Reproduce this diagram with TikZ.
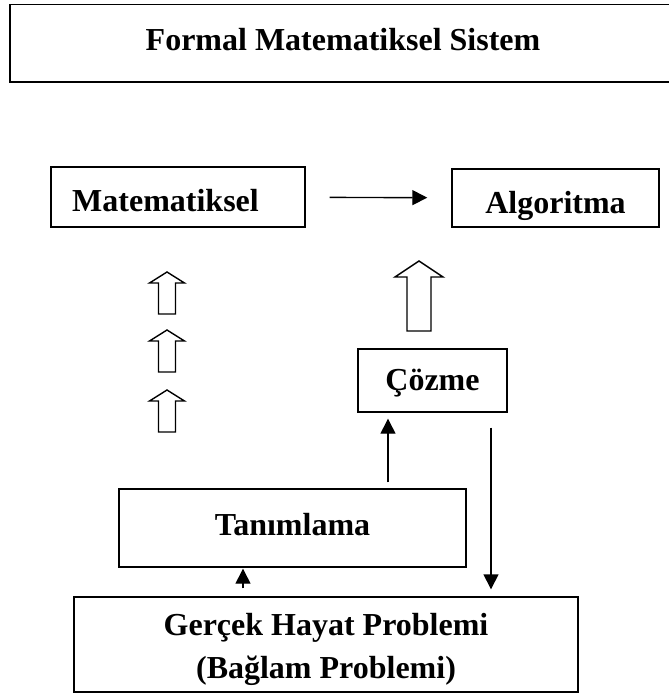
\documentclass[tikz,border=0pt]{standalone}
\usepackage{fontspec}
\setmainfont{Liberation Serif}
\usetikzlibrary{arrows.meta}
\tikzset{
  kutu/.style={draw,line width=1.4pt,inner sep=0pt},
  yazi/.style={anchor=base,inner sep=0pt,font=\fontsize{32}{43}\selectfont\bfseries},
  ok/.style={-{Triangle[length=15pt,width=15pt]},line width=1.4pt},
  bosok/.style={draw,line width=1.4pt,line join=miter}
}
\begin{document}
\begin{tikzpicture}[x=1pt,y=-1pt]
\useasboundingbox (0,0) rectangle (669,697);
% kutular
\node[kutu,line width=1.8pt,minimum width=666pt,minimum height=77.5pt] (formal) at (343,43.25) {};
\node[yazi] (baslik) at (343,50) {Formal Matematiksel Sistem};
\node[kutu,minimum width=254pt,minimum height=60pt] (mat) at (178,197) {};
\node[yazi,anchor=base west] (matyazi) at (72,211) {Matematiksel};
\node[kutu,minimum width=207pt,minimum height=58pt] (alg) at (555.5,198) {};
\node[yazi] (algyazi) at (555.5,213) {Algoritma};
\node[kutu,minimum width=149pt,minimum height=63pt] (coz) at (432.5,380.5) {};
\node[yazi] (cozyazi) at (432.5,390) {Çözme};
\node[kutu,minimum width=347pt,minimum height=78pt] (tan) at (292.5,528) {};
\node[yazi] (tanyazi) at (292.5,535) {Tanımlama};
\node[kutu,minimum width=504pt,minimum height=95pt] (ger) at (326,644.5) {};
\node[yazi,align=center] (geryazi) at (326,678) {Gerçek Hayat Problemi\\(Bağlam Problemi)};
%
\coordinate (k1) at (388,0);
\coordinate (k2) at (491,0);
\coordinate (k3) at (243,0);
\draw[ok,shorten <=24pt,shorten >=24pt] (mat) -- (alg);
\draw[ok,shorten <=6pt,shorten >=6pt] (tan.north -| k1) -- (coz.south -| k1);
\draw[ok,shorten <=15pt,shorten >=7pt] (coz.south -| k2) -- (ger.north -| k2);
\draw[ok,shorten <=8pt,shorten >=1pt] (ger.north -| k3) -- (tan.south -| k3);
% bos oklar
\foreach \y in {272,330,390}
  \draw[bosok] (167,\y) -- ++(17.5,11) -- ++(-9,0) -- ++(0,31) -- ++(-17,0) -- ++(0,-31) -- ++(-9,0) -- cycle;
\draw[bosok] (419,261) -- ++(24,16) -- ++(-12,0) -- ++(0,54) -- ++(-24,0) -- ++(0,-54) -- ++(-12,0) -- cycle;
\end{tikzpicture}
\end{document}
